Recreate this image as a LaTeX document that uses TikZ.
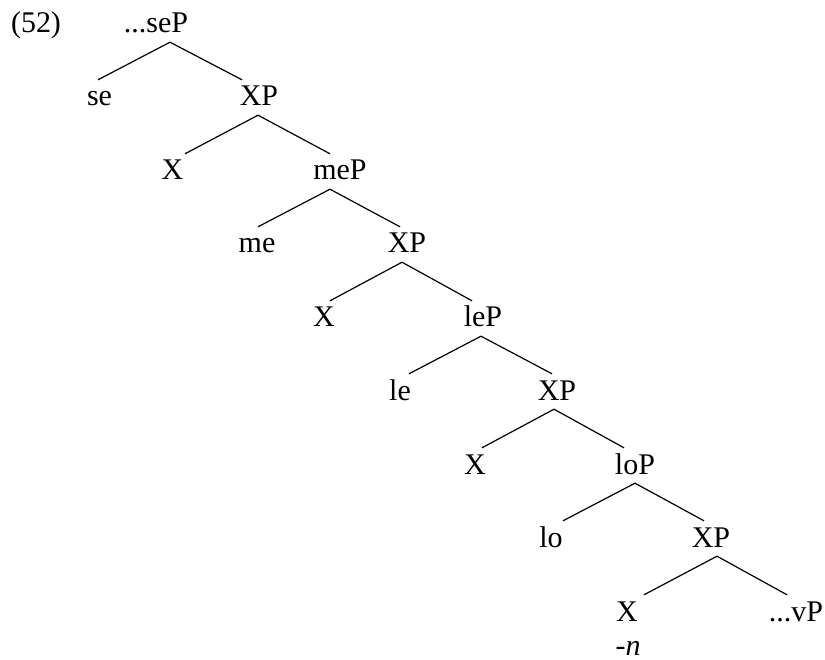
\documentclass[tikz,border=0pt]{standalone}
\usepackage{fontspec}
\setmainfont{Liberation Serif}
\usetikzlibrary{calc}

\begin{document}
\begin{tikzpicture}[x=1pt,y=-1pt,
  lbl/.style={anchor=base,inner xsep=0pt,inner ysep=9pt,text height=17pt,text depth=0pt,
    font=\fontsize{30}{34}\selectfont},
  branch/.style={line width=1.2pt}]
  \useasboundingbox (0,0) rectangle (825,660);
  % example number
  \node[lbl] (ex) at (36,33) {(52)};
  % labels, row by row
  \node[lbl] (seP) at (156,33) {...seP};
  \node[lbl] (se) at (99.5,106) {se};
  \node[lbl] (xpA) at (259,106) {XP};
  \node[lbl] (xA) at (172.5,180) {X};
  \node[lbl] (meP) at (340,180) {meP};
  \node[lbl] (me) at (257,253) {me};
  \node[lbl] (xpB) at (407,253) {XP};
  \node[lbl] (xB) at (324,327) {X};
  \node[lbl] (leP) at (483,327) {leP};
  \node[lbl] (le) at (400,400) {le};
  \node[lbl] (xpC) at (557,400) {XP};
  \node[lbl] (xC) at (475,474) {X};
  \node[lbl] (loP) at (635,474) {loP};
  \node[lbl] (lo) at (551,547) {lo};
  \node[lbl] (xpD) at (711,547) {XP};
  \node[lbl] (xD) at (627,621) {X};
  \node[lbl] (vP) at (796,621) {...vP};
  \node[lbl] (suf) at (628,655) {-\textit{n}};
  % branches
  \draw[branch] ($(se.north)+(-1.5,0)$) -- ($(seP.south)+(14,0)$) -- ($(xpA.north)+(-17,0)$);
  \draw[branch] ($(xA.north)+(12.5,0)$) -- ($(xpA.south)+(-1,0)$) -- ($(meP.north)+(-10,0)$);
  \draw[branch] ($(me.north)+(1,0)$) -- ($(meP.south)+(-10,0)$) -- ($(xpB.north)+(-7,0)$);
  \draw[branch] ($(xB.north)+(6,0)$) -- ($(xpB.south)+(-5,0)$) -- ($(leP.north)+(-11,0)$);
  \draw[branch] ($(le.north)+(9,0)$) -- ($(leP.south)+(-2,0)$) -- ($(xpC.north)+(-5,0)$);
  \draw[branch] ($(xC.north)+(7,0)$) -- ($(xpC.south)+(-3,0)$) -- ($(loP.north)+(-11,0)$);
  \draw[branch] ($(lo.north)+(12,0)$) -- (loP.south) -- ($(xpD.north)+(-7,0)$);
  \draw[branch] ($(xD.north)+(17,0)$) -- ($(xpD.south)+(6,0)$) -- ($(vP.north)+(-9,0)$);
\end{tikzpicture}
\end{document}
